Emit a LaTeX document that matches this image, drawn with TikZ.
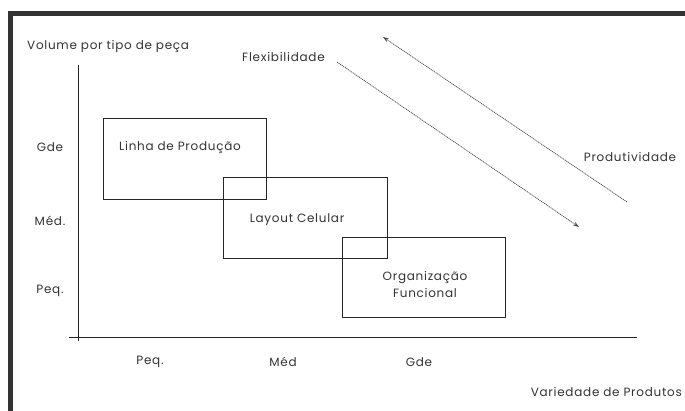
\documentclass[tikz,border=0pt]{standalone}
\usepackage{fontspec}
\setmainfont{Poppins}[LetterSpace=6]
\usetikzlibrary{arrows.meta}

\begin{document}
\begin{tikzpicture}[x=1pt,y=-1pt,
  every node/.style={font=\fontsize{12}{17}\selectfont, text=black!80, inner sep=0pt},
  area/.style={draw=black!85, line width=0.9pt, minimum width=163pt, minimum height=81pt},
  trend/.style={black!70, line width=0.7pt, dash pattern=on 1.2pt off 0.7pt, -{Stealth[length=6pt,width=4pt]}}]
  \useasboundingbox (0,0) rectangle (685,411);

  \draw[line width=4.5pt, black!80] (8,13.5) -- (685,13.5);
  \draw[line width=4.5pt, black!80] (10.5,11) -- (10.5,411);

  \coordinate (y1) at (78,65);
  \coordinate (y2) at (78,341);
  \coordinate (x1) at (69,338);
  \coordinate (x2) at (637,338);

  \draw[black!85, line width=1pt] (y1) -- (y2);
  \draw[black!85, line width=1pt] (x1) -- (x2);

  \node (vol) at (27,46) [anchor=west] {Volume por tipo de peça};
  \node (var) at (682,392) [anchor=east] {Variedade de Produtos};

  \node (yG) at (50,147) {Gde};
  \node (yM) at (50,221) {Méd.};
  \node (yP) at (50,291) {Peq.};

  \node (xP) at (150,362) {Peq.};
  \node (xM) at (283,362) {Méd};
  \node (xG) at (419,362) {Gde};

  \node[area] (L) at (184.5,158.5) {};
  \node[area, minimum width=164pt] (C) at (305,217.5) {};
  \node[area, minimum height=80pt] (F) at (423.5,277) {};

  \node (Lt) at (180,147) {Linha de Produção};
  \node (Ct) at (297,220) {Layout Celular};
  \node (Ft) at (425,284) [align=center] {Organização\\Funcional};

  \node (flex) at (283.5,57) {Flexibilidade};
  \node (prod) at (630,157) {Produtividade};

  \coordinate (f1) at (337,62);
  \coordinate (f2) at (579,227);
  \coordinate (p1) at (627,202);
  \coordinate (p2) at (383,37);

  \draw[trend] (f1) -- (f2);
  \draw[trend] (p1) -- (p2);
\end{tikzpicture}
\end{document}
